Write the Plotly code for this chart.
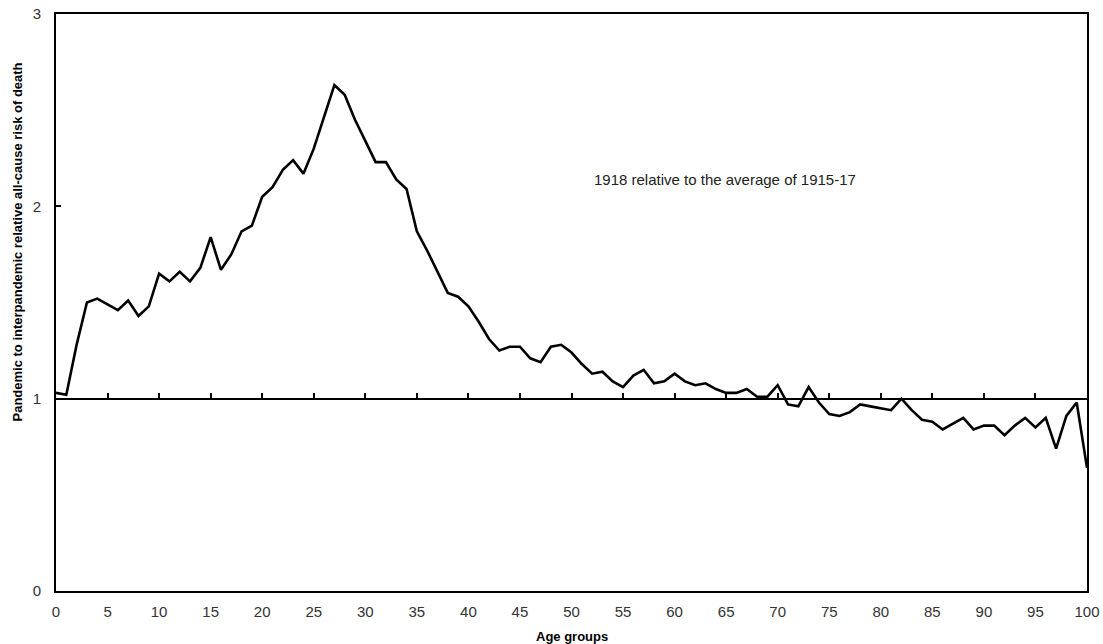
import plotly.graph_objects as go

# Single-year age groups 0..100
ages = list(range(0, 101))

# Ratio of 1918 all-cause mortality to the 1915-17 average, by age
risk_ratio = [
    1.03, 1.02, 1.28, 1.50, 1.52, 1.49, 1.46, 1.51, 1.43, 1.48,   # 0-9
    1.65, 1.61, 1.66, 1.61, 1.68, 1.84, 1.67, 1.75, 1.87, 1.90,   # 10-19
    2.05, 2.10, 2.19, 2.24, 2.17, 2.30, 2.46, 2.63, 2.58, 2.45,   # 20-29
    2.34, 2.23, 2.23, 2.14, 2.09, 1.87, 1.77, 1.66, 1.55, 1.53,   # 30-39
    1.48, 1.40, 1.31, 1.25, 1.27, 1.27, 1.21, 1.19, 1.27, 1.28,   # 40-49
    1.24, 1.18, 1.13, 1.14, 1.09, 1.06, 1.12, 1.15, 1.08, 1.09,   # 50-59
    1.13, 1.09, 1.07, 1.08, 1.05, 1.03, 1.03, 1.05, 1.01, 1.01,   # 60-69
    1.07, 0.97, 0.96, 1.06, 0.98, 0.92, 0.91, 0.93, 0.97, 0.96,   # 70-79
    0.95, 0.94, 1.00, 0.94, 0.89, 0.88, 0.84, 0.87, 0.90, 0.84,   # 80-89
    0.86, 0.86, 0.81, 0.86, 0.90, 0.85, 0.90, 0.74, 0.91, 0.98,   # 90-99
    0.64,                                                         # 100
]

x_ticks = list(range(0, 101, 5))
y_ticks = [0, 1, 2, 3]
reference_level = 1

FONT = "Liberation Sans, Arial, sans-serif"
TICK_FONT = dict(family=FONT, size=15, color="#333")
TITLE_FONT = dict(family=FONT, size=13, color="black", weight="bold")

fig = go.Figure()

fig.add_trace(go.Scatter(
    x=ages, y=risk_ratio, mode="lines",
    line=dict(color="black", width=2.6),
    showlegend=False, hoverinfo="skip",
))

fig.update_layout(
    width=1103, height=644,
    margin=dict(l=56, r=16, t=14, b=53),
    paper_bgcolor="white", plot_bgcolor="white",
    font=dict(family=FONT, size=15, color="#333"),
    xaxis=dict(
        range=[0, 100], tickvals=x_ticks, ticktext=[str(v) for v in x_ticks],
        showgrid=False, zeroline=False, automargin=False,
        showline=True, linecolor="black", linewidth=2, mirror=True,
        ticks="", tickfont=TICK_FONT, ticklabelstandoff=6,
    ),
    # reference line at ratio 1, carrying the age tick marks
    xaxis2=dict(
        range=[0, 100], tickvals=x_ticks, overlaying="x", anchor="free",
        position=reference_level / 3, side="bottom", automargin=False,
        showgrid=False, zeroline=False, showticklabels=False,
        showline=True, linecolor="black", linewidth=2,
        ticks="inside", ticklen=5, tickwidth=2, tickcolor="black",
    ),
    yaxis=dict(
        range=[0, 3], tickvals=y_ticks, domain=[0, 1], automargin=False,
        showgrid=False, zeroline=False,
        showline=True, linecolor="black", linewidth=2, mirror=True,
        ticks="inside", ticklen=5, tickwidth=2, tickcolor="black",
        ticklabelstandoff=10, tickfont=TICK_FONT,
    ),
)

# invisible trace so the ratio-1 axis is rendered
fig.add_trace(go.Scatter(x=[0, 100], y=[reference_level, reference_level],
                         xaxis="x2", mode="lines", line=dict(width=0),
                         showlegend=False, hoverinfo="skip"))

fig.add_annotation(
    text="Pandemic to interpandemic relative all-cause risk of death",
    xref="paper", yref="paper", x=-0.0378, y=0.604,
    xanchor="center", yanchor="middle", textangle=-90, showarrow=False,
    font=TITLE_FONT,
)
fig.add_annotation(
    text="Age groups",
    xref="paper", yref="paper", x=0.5, y=-0.0785,
    xanchor="center", yanchor="middle", showarrow=False,
    font=TITLE_FONT,
)
fig.add_annotation(
    text="1918 relative to the average of 1915-17",
    xref="x", yref="y", x=64.9, y=2.14,
    xanchor="center", yanchor="middle", showarrow=False,
    font=dict(family=FONT, size=15, color="#222"),
)

fig.write_html("out.html")
